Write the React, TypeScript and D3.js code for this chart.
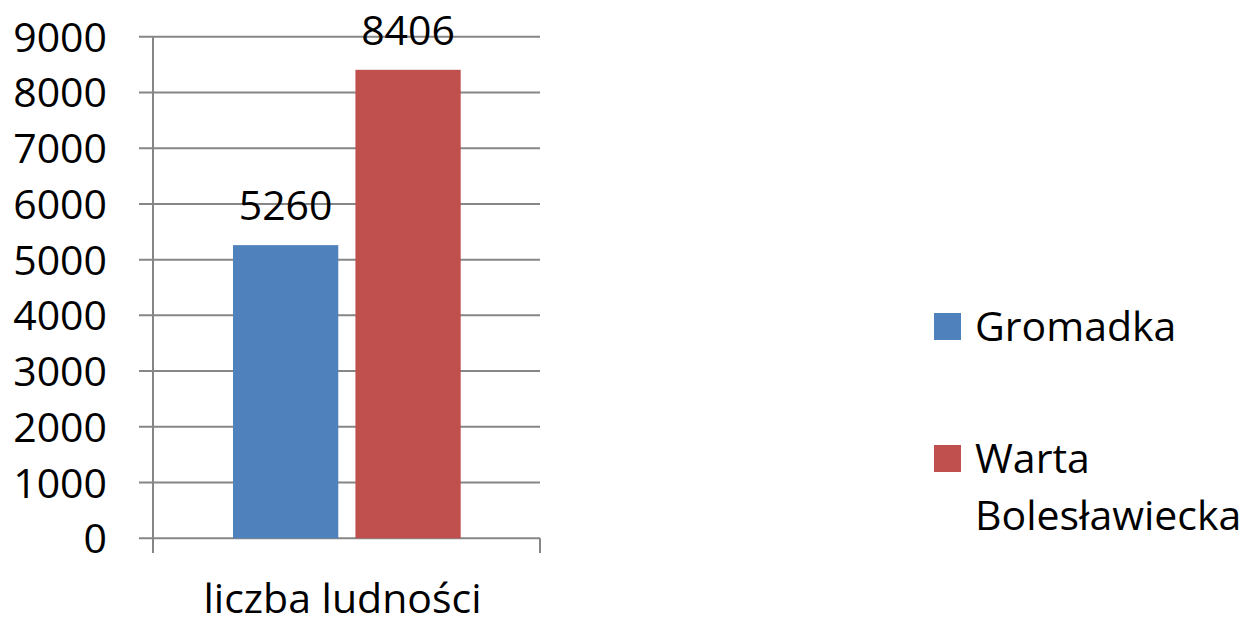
import React from "react";
import * as d3 from "d3";

const categories = ["liczba ludności"];
const seriesNames = ["Gromadka", "Warta Bolesławiecka"];
const seriesValues = [5260, 8406];
const seriesColors = ["#4F81BD", "#C0504D"];
const yTicks = [0, 1000, 2000, 3000, 4000, 5000, 6000, 7000, 8000, 9000];

const W = 1251;
const H = 617;
const plotLeft = 153;
const plotRight = 540;
const plotTop = 36.7;
const plotBottom = 538.3;
const FONT = "'Open Sans', sans-serif";

export default function App() {
  const y = d3.scaleLinear().domain([0, 9000]).range([plotBottom, plotTop]);
  const x0 = d3.scaleBand().domain(categories).range([plotLeft, plotRight]).paddingInner(0).paddingOuter(0);
  const x1 = d3
    .scaleBand()
    .domain(seriesNames)
    .range([80, 307.7])
    .paddingInner(0.14)
    .paddingOuter(0);
  const gridColor = "#868686";

  return (
    <svg width={W} height={H} style={{ position: "absolute", left: 0, top: 0, background: "#fff" }}>
      {yTicks.map((t) => (
        <g key={t}>
          <line x1={139} x2={plotRight} y1={y(t)} y2={y(t)} stroke={gridColor} strokeWidth={2} />
          <text
            x={107}
            y={y(t) + 15}
            textAnchor="end"
            fontFamily={FONT}
            fontSize={41}
            fill="#000"
          >
            {t}
          </text>
        </g>
      ))}
      <line x1={plotLeft} x2={plotLeft} y1={plotTop} y2={553} stroke={gridColor} strokeWidth={2} />
      <line x1={plotRight} x2={plotRight} y1={plotBottom} y2={553} stroke={gridColor} strokeWidth={2} />
      {categories.map((c) => (
        <g key={c}>
          {seriesNames.map((s, i) => {
            const bx = (x0(c) as number) + (x1(s) as number);
            const bw = x1.bandwidth();
            const v = seriesValues[i];
            return (
              <g key={s}>
                <rect x={bx} y={y(v)} width={bw} height={y(0) - y(v)} fill={seriesColors[i]} />
                <text
                  x={bx + bw / 2}
                  y={y(v) - 25}
                  textAnchor="middle"
                  fontFamily={FONT}
                  fontSize={41}
                  fill="#000"
                >
                  {v}
                </text>
              </g>
            );
          })}
          <text
            x={(x0(c) as number) + x0.bandwidth() / 2 - 4}
            y={613}
            textAnchor="middle"
            fontFamily={FONT}
            fontSize={41}
            fill="#000"
          >
            {c}
          </text>
        </g>
      ))}
      <g>
        <rect x={934} y={313} width={27} height={27} fill={seriesColors[0]} />
        <text x={975} y={341} fontFamily={FONT} fontSize={41} fill="#000">
          {seriesNames[0]}
        </text>
        <rect x={934} y={445} width={27} height={27} fill={seriesColors[1]} />
        <text x={975} y={472.5} fontFamily={FONT} fontSize={41} fill="#000">
          {seriesNames[1].split(" ")[0]}
        </text>
        <text x={975} y={530} fontFamily={FONT} fontSize={41} fill="#000">
          {seriesNames[1].split(" ")[1]}
        </text>
      </g>
    </svg>
  );
}
